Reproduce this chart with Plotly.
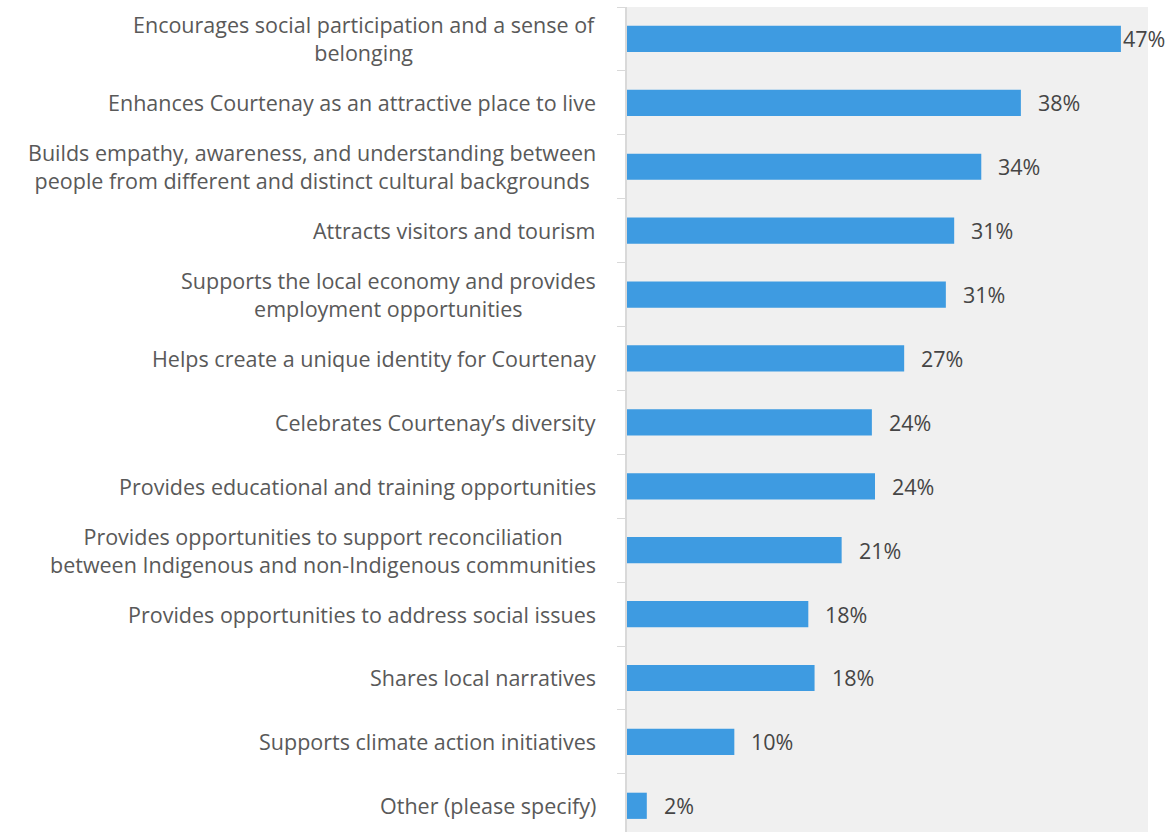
import plotly.graph_objects as go

categories = [
    "Encourages social participation and a sense of<br>belonging",
    "Enhances Courtenay as an attractive place to live",
    "Builds empathy, awareness, and understanding between<br>people from different and distinct cultural backgrounds",
    "Attracts visitors and tourism",
    "Supports the local economy and provides<br>employment opportunities",
    "Helps create a unique identity for Courtenay",
    "Celebrates Courtenay\u2019s diversity",
    "Provides educational and training opportunities",
    "Provides opportunities to support reconciliation<br>between Indigenous and non-Indigenous communities",
    "Provides opportunities to address social issues",
    "Shares local narratives",
    "Supports climate action initiatives",
    "Other (please specify)",
]
values = [47.4, 37.8, 34.0, 31.4, 30.6, 26.6, 23.5, 23.8, 20.6, 17.4, 18.0, 10.3, 1.9]
value_labels = ["47%", "38%", "34%", "31%", "31%", "27%", "24%", "24%", "21%", "18%", "18%", "10%", "2%"]

FONT = "Open Sans"
ids = list(range(len(categories)))

fig = go.Figure()
fig.add_trace(go.Bar(
    x=values, y=ids, orientation="h",
    marker=dict(color="#3E9BE1", line=dict(width=0)),
    width=0.41, hoverinfo="skip",
))

annotations = []
for i, (cat, v, lab) in enumerate(zip(categories, values, value_labels)):
    annotations.append(dict(
        x=0, xref="paper", y=i, yref="y", text=cat, showarrow=False,
        xanchor="right", yanchor="middle", align="center", xshift=-29,
        font=dict(family=FONT, size=21.5, color="#595959"),
    ))
    annotations.append(dict(
        x=v, xref="x", y=i, yref="y", text=lab, showarrow=False,
        xanchor="left", yanchor="middle", xshift=0 if v > 45 else 15,
        font=dict(family=FONT, size=21.5, color="#454545"),
    ))

fig.update_layout(
    width=1173, height=832,
    margin=dict(l=627, r=25, t=7, b=0),
    paper_bgcolor="white", plot_bgcolor="#F0F0F0",
    showlegend=False, annotations=annotations,
    xaxis=dict(range=[0, 50], showticklabels=False, showgrid=False,
               zeroline=False, showline=False, ticks=""),
    yaxis=dict(type="linear", range=[12.41, -0.5], showticklabels=False,
               showgrid=False, zeroline=False, showline=True,
               linecolor="#D9D9D9", linewidth=2,
               tickmode="array", tickvals=[i - 0.5 for i in range(len(categories) + 1)],
               ticks="outside", ticklen=8, tickcolor="#D9D9D9", tickwidth=1),
)

fig.write_html("out.html", config={"displayModeBar": False},
               post_script="document.body.style.margin='0px';")
